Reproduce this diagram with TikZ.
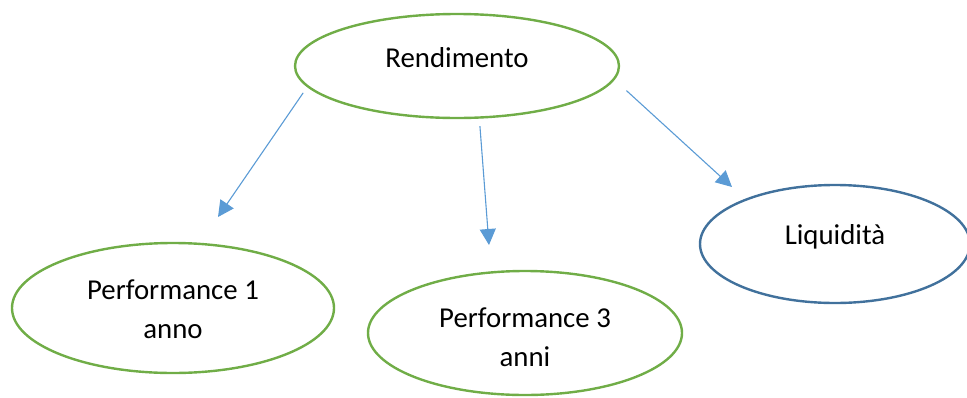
\documentclass[tikz,border=0pt]{standalone}
\usepackage{fontspec}
\setmainfont{Carlito}
\usetikzlibrary{arrows.meta,shapes.geometric}
\definecolor{leafgreen}{HTML}{70AD47}
\definecolor{rimblue}{HTML}{41719C}
\definecolor{arrowblue}{HTML}{5B9BD5}
\newcommand{\ovaltext}[2]{\raisebox{#1}[\height][\depth]{\begin{tabular}{@{}c@{}}#2\end{tabular}}}

\begin{document}
\begin{tikzpicture}[x=1pt,y=-1pt,
  oval/.style={ellipse,draw=leafgreen,line width=2.4pt,inner sep=0pt,
    font=\fontsize{28.8}{39}\selectfont},
  link/.style={draw=arrowblue,line width=1.1pt,-{Triangle[length=16pt,width=16pt]}}]
\useasboundingbox (0,0) rectangle (967,397);
\clip (0,0) rectangle (967,397);
% the four ovals
\node[oval,minimum width=324pt,minimum height=104pt] (rend) at (457,66) {\ovaltext{6pt}{Rendimento}};
\node[oval,minimum width=322pt,minimum height=130pt] (perf1) at (173,308) {\ovaltext{-3pt}{Performance 1\\anno}};
\node[oval,minimum width=314pt,minimum height=124pt] (perf3) at (525,333) {\ovaltext{-6pt}{Performance 3\\anni}};
\node[oval,draw=rimblue,minimum width=270pt,minimum height=118pt] (liq) at (835,244) {\ovaltext{7pt}{Liquidità}};
% arrow tips stop short of the ovals
\coordinate (tip1) at (218,217);
\coordinate (tip2) at (489,245);
\coordinate (tip3) at (732,187);
\draw[link,shorten <=7pt] (rend.188.5) -- (tip1);
\draw[link,shorten <=7.5pt] (rend.293.5) -- (tip2);
\draw[link,shorten <=16pt] (rend.355.6) -- (tip3);
\end{tikzpicture}
\end{document}
